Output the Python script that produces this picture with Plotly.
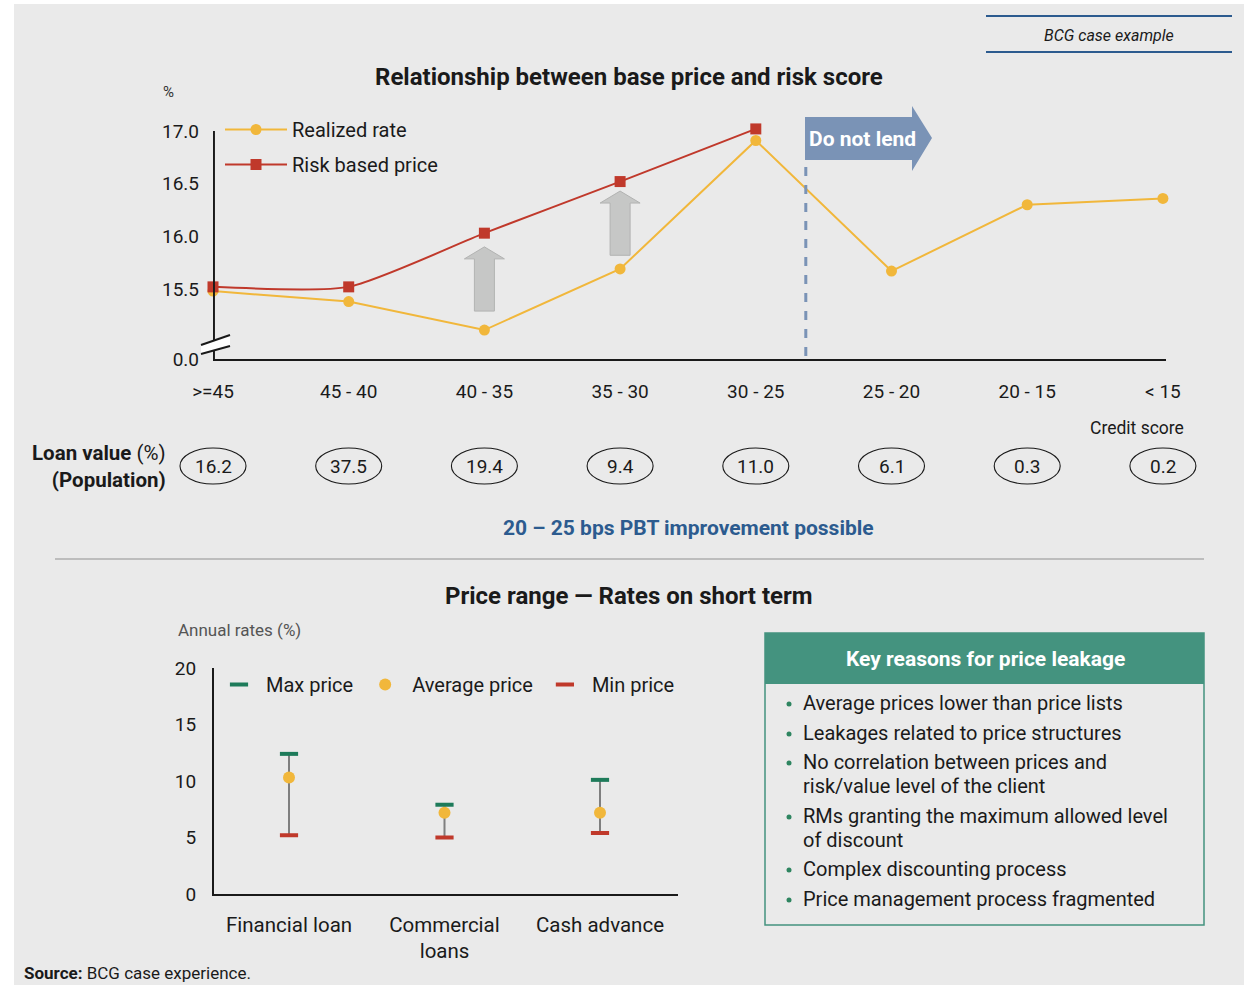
import plotly.graph_objects as go

W, H = 1244, 985


def fx(p):
    return p / W


def fy(p):
    return 1 - p / H


FONT = "Roboto"
INK = "#1a1a1a"
YELLOW = "#F1B73B"
RED = "#C0392B"
GREEN = "#1E7B5A"
TEAL = "#44937F"
SLATE = "#7A93B6"
NAVY = "#2C5B8F"
PANEL = "#EAEAEA"

# ---- top chart data ----
credit_bands = [">=45", "45 - 40", "40 - 35", "35 - 30", "30 - 25", "25 - 20", "20 - 15", "< 15"]
realized_rate = [15.48, 15.38, 15.11, 15.69, 16.91, 15.67, 16.30, 16.36]
risk_based_price = [15.52, 15.52, 16.03, 16.52, 17.02]
loan_value_share = [16.2, 37.5, 19.4, 9.4, 11.0, 6.1, 0.3, 0.2]
y_tick_vals = [15.5, 16.0, 16.5, 17.0]

# ---- bottom chart data ----
products = ["Financial loan", "Commercial<br>loans", "Cash advance"]
max_price = [12.4, 7.9, 10.1]
avg_price = [10.3, 7.2, 7.2]
min_price = [5.2, 5.0, 5.4]

leakage_reasons = [
    "Average prices lower than price lists",
    "Leakages related to price structures",
    "No correlation between prices and<br>risk/value level of the client",
    "RMs granting the maximum allowed level<br>of discount",
    "Complex discounting process",
    "Price management process fragmented",
]

# broken axis: the bottom of the plotted band is labelled 0.0
Y_BASE = 14.835
TOP_PX_PER_UNIT = 105.3
X0_PX = 213
CAT_PX = 135.7

xi = list(range(len(credit_bands)))

fig = go.Figure()

fig.add_trace(go.Scatter(
    x=xi, y=realized_rate, name="Realized rate", mode="lines+markers",
    line=dict(color=YELLOW, width=2), marker=dict(color=YELLOW, size=11, symbol="circle"),
    cliponaxis=False, legend="legend", legendgroup="a", xaxis="x", yaxis="y"))
fig.add_trace(go.Scatter(
    x=xi[:len(risk_based_price)], y=risk_based_price, name="Risk based price", mode="lines+markers",
    line=dict(color=RED, width=2, shape="spline", smoothing=0.6),
    marker=dict(color=RED, size=11, symbol="square"),
    cliponaxis=False, legend="legend", legendgroup="b", xaxis="x", yaxis="y"))

# range lines for the product chart
rx, ry = [], []
for i in range(len(products)):
    rx += [i, i, None]
    ry += [min_price[i], max_price[i], None]
fig.add_trace(go.Scatter(x=rx, y=ry, mode="lines", line=dict(color="#7F7F7F", width=2),
                         showlegend=False, hoverinfo="skip", xaxis="x2", yaxis="y2"))
fig.add_trace(go.Scatter(
    x=list(range(len(products))), y=max_price, name="Max price", mode="markers",
    marker=dict(symbol="line-ew", size=13, line=dict(color=GREEN, width=4), color=GREEN),
    legend="legend2", xaxis="x2", yaxis="y2", cliponaxis=False))
fig.add_trace(go.Scatter(
    x=list(range(len(products))), y=avg_price, name="Average price", mode="markers",
    marker=dict(symbol="circle", size=12, color=YELLOW),
    legend="legend2", xaxis="x2", yaxis="y2", cliponaxis=False))
fig.add_trace(go.Scatter(
    x=list(range(len(products))), y=min_price, name="Min price", mode="markers",
    marker=dict(symbol="line-ew", size=13, line=dict(color=RED, width=4), color=RED),
    legend="legend2", xaxis="x2", yaxis="y2", cliponaxis=False))

shapes = []
annotations = []

# panel background
shapes.append(dict(type="rect", xref="paper", yref="paper", x0=fx(14), x1=1, y0=0, y1=fy(4),
                   fillcolor=PANEL, line=dict(width=0), layer="below"))

# y axis line of the top chart and the break mark
shapes.append(dict(type="line", xref="x", yref="y", x0=0.007, x1=0.007, y0=Y_BASE, y1=17.0,
                   line=dict(color=INK, width=2)))
shapes.append(dict(type="path", xref="paper", yref="paper",
                   path=f"M{fx(201)},{fy(345)} L{fx(230)},{fy(335)} L{fx(230)},{fy(346)} L{fx(201)},{fy(354)} Z",
                   fillcolor="white", line=dict(width=0)))
for a, b in [((201, 345), (230, 335)), ((201, 354), (230, 346))]:
    shapes.append(dict(type="line", xref="paper", yref="paper", x0=fx(a[0]), y0=fy(a[1]),
                       x1=fx(b[0]), y1=fy(b[1]), line=dict(color=INK, width=2)))

# grey "raise price" arrows between the curves
for ci, y_lo, y_hi in [(2, 15.29, 15.90), (3, 15.82, 16.43)]:
    bw = 10 / CAT_PX
    hw = 20 / CAT_PX
    hl = 12 / TOP_PX_PER_UNIT
    p = (f"M{ci - bw},{y_lo} L{ci + bw},{y_lo} L{ci + bw},{y_hi - hl} L{ci + hw},{y_hi - hl} "
         f"L{ci},{y_hi} L{ci - hw},{y_hi - hl} L{ci - bw},{y_hi - hl} Z")
    shapes.append(dict(type="path", xref="x", yref="y", path=p, fillcolor="#C6C7C6",
                       line=dict(color="#B2B3B2", width=1)))

# cut-off line and "Do not lend" arrow
cut_x = 4 + 50 / CAT_PX
shapes.append(dict(type="line", xref="x", yref="paper", x0=cut_x, x1=cut_x, y0=fy(356), y1=fy(160),
                   line=dict(color=SLATE, width=3, dash="dash")))
shapes.append(dict(type="path", xref="paper", yref="paper",
                   path=(f"M{fx(805)},{fy(117)} L{fx(912)},{fy(117)} L{fx(912)},{fy(106)} L{fx(932)},{fy(138)} "
                         f"L{fx(912)},{fy(171)} L{fx(912)},{fy(160)} L{fx(805)},{fy(160)} Z"),
                   fillcolor=SLATE, line=dict(width=0)))
annotations.append(dict(text="<b>Do not lend</b>", x=fx(862), y=fy(139),
                        font=dict(size=21, color="white", family=FONT)))

# loan value ellipses, one under each credit band
for i, v in enumerate(loan_value_share):
    cx = X0_PX + i * CAT_PX
    shapes.append(dict(type="circle", xref="paper", yref="paper", x0=fx(cx - 33), x1=fx(cx + 33),
                       y0=fy(484), y1=fy(448), line=dict(color=INK, width=1.1)))
    annotations.append(dict(text=f"{v:.1f}", x=fx(cx), y=fy(466),
                            font=dict(size=19, color=INK, family=FONT)))

# separator
shapes.append(dict(type="line", xref="paper", yref="paper", x0=fx(55), x1=fx(1204), y0=fy(559), y1=fy(559),
                   line=dict(color="#BDBDBD", width=2)))

# "BCG case example" tag
for yy in (16, 52):
    shapes.append(dict(type="line", xref="paper", yref="paper", x0=fx(986), x1=fx(1232), y0=fy(yy), y1=fy(yy),
                       line=dict(color=NAVY, width=2)))
annotations.append(dict(text="<i>BCG case example</i>", x=fx(1109), y=fy(36),
                        font=dict(size=16, color=INK, family=FONT)))

# key reasons box
shapes.append(dict(type="rect", xref="paper", yref="paper", x0=fx(765), x1=fx(1204), y0=fy(925), y1=fy(633),
                   line=dict(color=TEAL, width=1.5), fillcolor="rgba(0,0,0,0)"))
shapes.append(dict(type="rect", xref="paper", yref="paper", x0=fx(765), x1=fx(1204), y0=fy(684), y1=fy(633),
                   line=dict(width=0), fillcolor=TEAL))
annotations.append(dict(text="<b>Key reasons for price leakage</b>", x=fx(985), y=fy(659),
                        font=dict(size=21, color="white", family=FONT)))
reason_rows = [703, 733, 762, 816, 869, 899]
for txt, row in zip(leakage_reasons, reason_rows):
    shapes.append(dict(type="circle", xref="paper", yref="paper", x0=fx(786.5), x1=fx(791.5),
                       y0=fy(row + 3.5), y1=fy(row - 1.5), fillcolor="#2E8560", line=dict(width=0)))
    for k, line_txt in enumerate(txt.split("<br>")):
        annotations.append(dict(text=line_txt, x=fx(801), y=fy(row + 24 * k), xanchor="left", align="left",
                                font=dict(size=20, color=INK, family=FONT)))

# titles and labels
annotations += [
    dict(text="<b>Relationship between base price and risk score</b>", x=fx(629), y=fy(77),
         font=dict(size=24, color=INK, family=FONT)),
    dict(text="%", x=fx(168), y=fy(92), font=dict(size=15, color="#333", family=FONT)),
    dict(text="Credit score", x=fx(1137), y=fy(428), font=dict(size=17.5, color=INK, family=FONT)),
    dict(text="<b>Loan value</b> (%)<br><b>(Population)</b>", x=fx(168), y=fy(466), xanchor="right",
         align="right", font=dict(size=20.5, color=INK, family=FONT)),
    dict(text="<b>20 – 25 bps PBT improvement possible</b>", x=fx(688), y=fy(528),
         font=dict(size=21, color=NAVY, family=FONT)),
    dict(text="<b>Price range — Rates on short term</b>", x=fx(629), y=fy(596),
         font=dict(size=24, color=INK, family=FONT)),
    dict(text="Annual rates (%)", x=fx(176), y=fy(630), xanchor="left",
         font=dict(size=17, color="#555", family=FONT)),
    dict(text="<b>Source:</b> BCG case experience.", x=fx(22), y=fy(973), xanchor="left",
         font=dict(size=17, color=INK, family=FONT)),
]
for a in annotations:
    a.setdefault("xref", "paper")
    a.setdefault("yref", "paper")
    a.setdefault("xanchor", "center")
    a.setdefault("yanchor", "middle")
    a["showarrow"] = False

fig.update_layout(
    width=W, height=H, autosize=False,
    margin=dict(l=0, r=0, t=0, b=0, pad=0, autoexpand=False),
    paper_bgcolor="white", plot_bgcolor="rgba(0,0,0,0)",
    font=dict(family=FONT, color=INK),
    showlegend=True,
    shapes=shapes, annotations=annotations,
    xaxis=dict(domain=[fx(X0_PX), fx(1166)], range=[0, (1166 - X0_PX) / CAT_PX], anchor="y", automargin=False,
               tickvals=xi, ticktext=credit_bands, showgrid=False, zeroline=False,
               showline=True, linecolor=INK, linewidth=2, ticks="", ticklabelstandoff=14,
               tickfont=dict(size=19, color=INK, family=FONT)),
    yaxis=dict(domain=[fy(359), fy(120)], range=[Y_BASE, Y_BASE + (359 - 120) / TOP_PX_PER_UNIT], anchor="x",
               automargin=False,
               tickvals=[Y_BASE] + y_tick_vals, ticktext=["0.0"] + [f"{v:.1f}" for v in y_tick_vals],
               showgrid=False, zeroline=False, showline=False, ticks="", ticklabelstandoff=13,
               tickfont=dict(size=19, color=INK, family=FONT)),
    xaxis2=dict(domain=[fx(214), fx(678)], range=[-(289 - 214) / 155.5, (678 - 289) / 155.5], anchor="y2",
                automargin=False,
                tickvals=list(range(len(products))), ticktext=products, showgrid=False, zeroline=False,
                showline=True, linecolor=INK, linewidth=2, ticks="", ticklabelstandoff=11,
                tickfont=dict(size=20.5, color=INK, family=FONT)),
    yaxis2=dict(domain=[fy(894), fy(668)], range=[0, 20], anchor="x2", tickvals=[0, 5, 10, 15, 20],
                automargin=False,
                showgrid=False, zeroline=False, showline=True, linecolor=INK, linewidth=2, ticks="",
                ticklabelstandoff=12, tickfont=dict(size=19, color=INK, family=FONT)),
    legend=dict(x=fx(220), y=fy(110), xanchor="left", yanchor="top", orientation="v",
                bgcolor="rgba(0,0,0,0)", itemwidth=62, tracegroupgap=6, traceorder="grouped",
                font=dict(size=20, color=INK, family=FONT)),
    legend2=dict(x=fx(212), y=fy(665), xanchor="left", yanchor="top", orientation="h",
                 bgcolor="rgba(0,0,0,0)", itemwidth=44, font=dict(size=20, color=INK, family=FONT)),
)

fig.write_html("out.html")
